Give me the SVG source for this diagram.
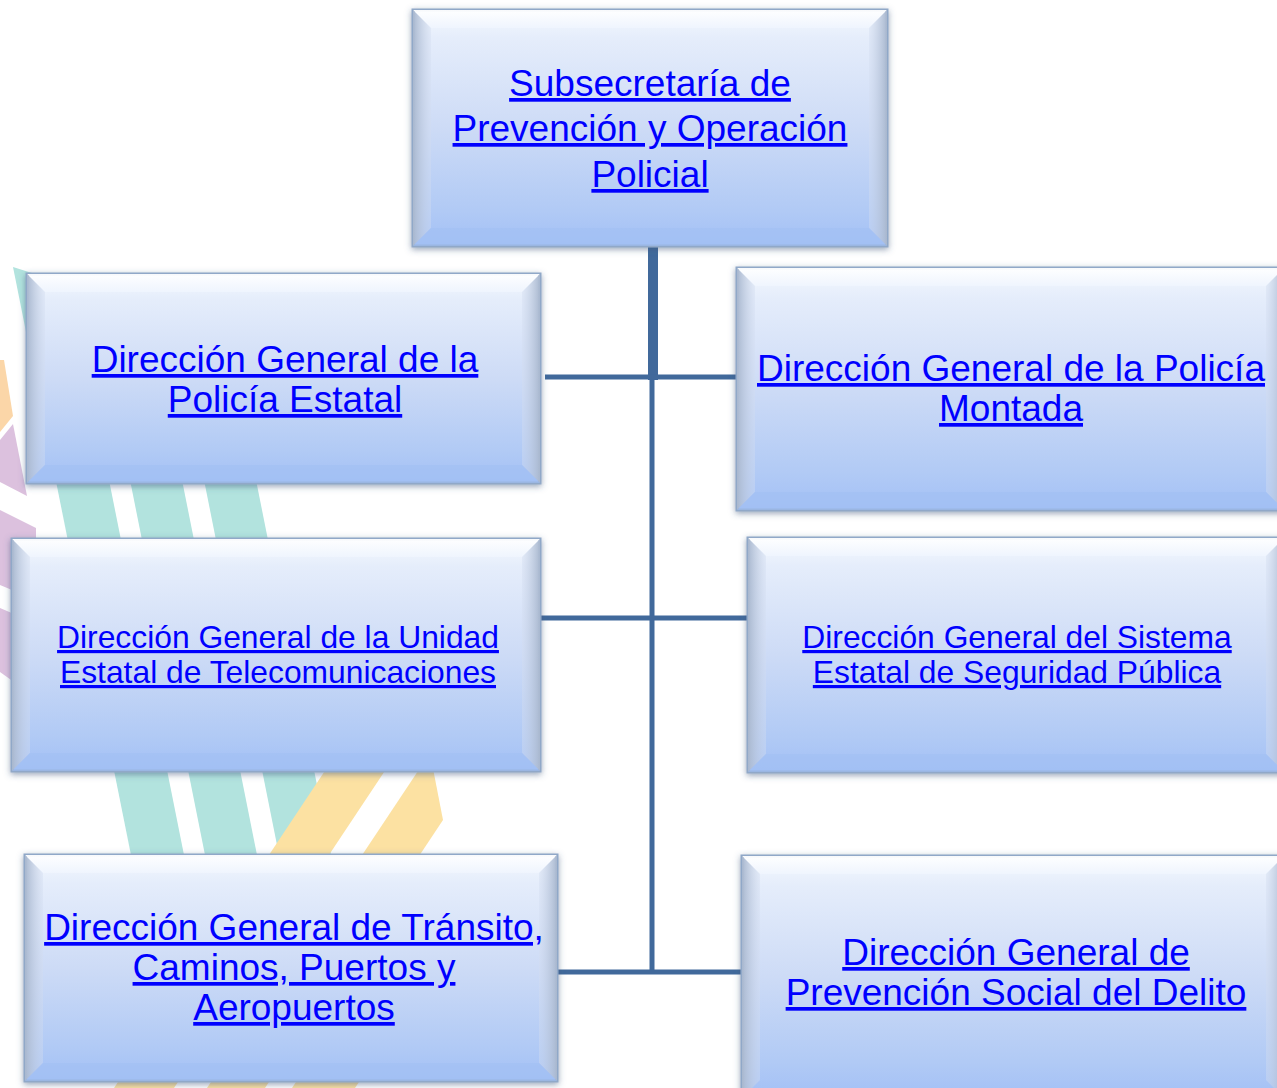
<svg xmlns="http://www.w3.org/2000/svg" width="1277" height="1088" viewBox="0 0 1277 1088">
<defs>
  <linearGradient id="face" x1="0" y1="0" x2="0" y2="1">
    <stop offset="0" stop-color="#f5f9fe"/>
    <stop offset="0.12" stop-color="#e5edfb"/>
    <stop offset="0.5" stop-color="#cddbf6"/>
    <stop offset="0.85" stop-color="#b1caf5"/>
    <stop offset="1" stop-color="#a3c0f6"/>
  </linearGradient>
  <linearGradient id="bevTop" x1="0" y1="0" x2="0" y2="1">
    <stop offset="0" stop-color="#ffffff" stop-opacity="0.95"/>
    <stop offset="1" stop-color="#f2f7ff" stop-opacity="0.6"/>
  </linearGradient>
  <linearGradient id="bevLeft" x1="0" y1="0" x2="1" y2="0">
    <stop offset="0" stop-color="#a9b8cf"/>
    <stop offset="1" stop-color="#d3ddf0" stop-opacity="0.4"/>
  </linearGradient>
  <linearGradient id="bevRight" x1="1" y1="0" x2="0" y2="0">
    <stop offset="0" stop-color="#a9b8cf"/>
    <stop offset="1" stop-color="#d3ddf0" stop-opacity="0.4"/>
  </linearGradient>
  <filter id="shadow" x="-5%" y="-5%" width="110%" height="115%">
    <feDropShadow dx="0" dy="2" stdDeviation="3" flood-color="#3c5a7e" flood-opacity="0.55"/>
  </filter>
  <style>
    .face { fill: url(#face); stroke: #90a8c8; stroke-width: 3; filter: url(#shadow); }
    .bt { fill: url(#bevTop); }
    .bl { fill: url(#bevLeft); }
    .br { fill: url(#bevRight); }
    .bb { fill: #a2bff4; opacity: 0.6; }
    .t { font-family: "Liberation Sans", Arial, sans-serif; fill: #0000ff; text-anchor: middle; text-decoration: underline; }
    .s37 { font-size: 37px; }
    .s31 { font-size: 31.8px; }
    .conn { stroke: #41699b; fill: none; }
    .teal { fill: #b2e3de; }
    .yel { fill: #fce1a2; }
    .pur { fill: #dcc1de; }
    .ora { fill: #fbd6a8; }
  </style>
</defs>
<rect width="1277" height="1088" fill="#ffffff"/>

<g id="background">
  <polygon class="teal" points="13,267 70,285 193,900 140,900"/>
  <polygon class="teal" points="90,280 142,280 266,900 214,900"/>
  <polygon class="teal" points="164,280 216,280 340,900 288,900"/>
  <polygon class="yel" points="372,700 432,700 174,1088 114,1088"/>
  <polygon class="yel" points="430,753 443,820 265,1088 207,1088"/>
  <polygon class="yel" points="444,860 507,860 355,1088 292,1088"/>
  <polygon class="ora" points="0,360 4,360 13,416 0,432"/>
  <polygon class="pur" points="0,440 13,424 27,496 0,482"/>
  <polygon class="pur" points="0,510 36,528 36,600 0,585"/>
  <polygon class="pur" points="0,608 14,614 14,682 0,672"/>
</g>

<g id="connectors">
  <line class="conn" x1="653" y1="244" x2="653" y2="380" stroke-width="10"/>
  <line class="conn" x1="652" y1="376" x2="652" y2="974" stroke-width="5"/>
  <line class="conn" x1="545" y1="377" x2="739" y2="377" stroke-width="5"/>
  <line class="conn" x1="533" y1="618" x2="750" y2="618" stroke-width="5"/>
  <line class="conn" x1="557" y1="972" x2="744" y2="972" stroke-width="5"/>
</g>

<g id="node-subsecretaria">
  <rect class="face" x="413" y="10" width="474" height="236"/>
  <polygon class="bt" points="413,10 887,10 869,28 431,28"/>
  <polygon class="bl" points="413,10 431,28 431,228 413,246"/>
  <polygon class="br" points="887,10 887,246 869,228 869,28"/>
  <polygon class="bb" points="413,246 431,228 869,228 887,246"/>
  <text class="t s37" x="650" y="96">Subsecretaría de</text>
  <text class="t s37" x="650" y="141">Prevención y Operación</text>
  <text class="t s37" x="650" y="187">Policial</text>
</g>

<g id="node-policia-estatal">
  <rect class="face" x="27" y="274" width="513" height="209"/>
  <polygon class="bt" points="27,274 540,274 522,292 45,292"/>
  <polygon class="bl" points="27,274 45,292 45,465 27,483"/>
  <polygon class="br" points="540,274 540,483 522,465 522,292"/>
  <polygon class="bb" points="27,483 45,465 522,465 540,483"/>
  <text class="t s37" x="285" y="372">Dirección General de la</text>
  <text class="t s37" x="285" y="412">Policía Estatal</text>
</g>

<g id="node-policia-montada">
  <rect class="face" x="737" y="268" width="547" height="242"/>
  <polygon class="bt" points="737,268 1284,268 1266,286 755,286"/>
  <polygon class="bl" points="737,268 755,286 755,492 737,510"/>
  <polygon class="br" points="1284,268 1284,510 1266,492 1266,286"/>
  <polygon class="bb" points="737,510 755,492 1266,492 1284,510"/>
  <text class="t s37" x="1011" y="381">Dirección General de la Policía</text>
  <text class="t s37" x="1011" y="421">Montada</text>
</g>

<g id="node-telecomunicaciones">
  <rect class="face" x="12" y="539" width="528" height="232"/>
  <polygon class="bt" points="12,539 540,539 522,557 30,557"/>
  <polygon class="bl" points="12,539 30,557 30,753 12,771"/>
  <polygon class="br" points="540,539 540,771 522,753 522,557"/>
  <polygon class="bb" points="12,771 30,753 522,753 540,771"/>
  <text class="t s31" x="278" y="648">Dirección General de la Unidad</text>
  <text class="t s31" x="278" y="683">Estatal de Telecomunicaciones</text>
</g>

<g id="node-seguridad-publica">
  <rect class="face" x="748" y="538" width="536" height="234"/>
  <polygon class="bt" points="748,538 1284,538 1266,556 766,556"/>
  <polygon class="bl" points="748,538 766,556 766,754 748,772"/>
  <polygon class="br" points="1284,538 1284,772 1266,754 1266,556"/>
  <polygon class="bb" points="748,772 766,754 1266,754 1284,772"/>
  <text class="t s31" x="1017" y="648">Dirección General del Sistema</text>
  <text class="t s31" x="1017" y="683">Estatal de Seguridad Pública</text>
</g>

<g id="node-transito">
  <rect class="face" x="25" y="855" width="532" height="226"/>
  <polygon class="bt" points="25,855 557,855 539,873 43,873"/>
  <polygon class="bl" points="25,855 43,873 43,1063 25,1081"/>
  <polygon class="br" points="557,855 557,1081 539,1063 539,873"/>
  <polygon class="bb" points="25,1081 43,1063 539,1063 557,1081"/>
  <text class="t s37" x="294" y="940">Dirección General de Tránsito,</text>
  <text class="t s37" x="294" y="980">Caminos, Puertos y</text>
  <text class="t s37" x="294" y="1020">Aeropuertos</text>
</g>

<g id="node-prevencion-social">
  <rect class="face" x="742" y="856" width="542" height="242"/>
  <polygon class="bt" points="742,856 1284,856 1266,874 760,874"/>
  <polygon class="bl" points="742,856 760,874 760,1080 742,1098"/>
  <polygon class="br" points="1284,856 1284,1098 1266,1080 1266,874"/>
  <text class="t s37" x="1016" y="965">Dirección General de</text>
  <text class="t s37" x="1016" y="1005">Prevención Social del Delito</text>
</g>
</svg>
